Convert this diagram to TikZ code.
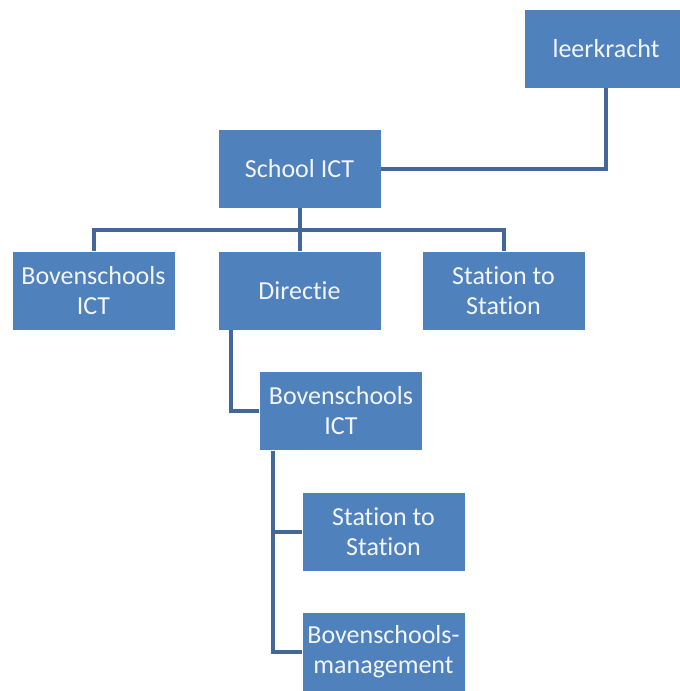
\documentclass[tikz,border=0pt]{standalone}
\usepackage{fontspec}
\setmainfont{Carlito}[Ligatures=NoCommon]
\usepackage{tikz}

\definecolor{boxblue}{HTML}{4F81BD}
\definecolor{linkblue}{HTML}{44679A}
\definecolor{textwhite}{HTML}{F2F6FB}

\begin{document}
\begin{tikzpicture}[x=1pt,y=-1pt,
  orgbox/.style={fill=boxblue,draw=white,line width=0.6pt,minimum width=163pt,minimum height=79pt,
    inner sep=0pt,align=center,text=textwhite,font=\fontsize{26}{30}\selectfont},
  link/.style={draw=linkblue,line width=4pt}]
\useasboundingbox (0,0) rectangle (680,691);
\clip (0,0) rectangle (680,691);
% top row
\node[orgbox] (leerkracht) at (606,48.5) {leerkracht};
\node[orgbox] (school) at (299.5,168.5) {School ICT};
% second row
\node[orgbox] (bovict) at (93.5,290.5) {Bovenschools\\ICT};
\node[orgbox] (directie) at (299.5,290.5) {Directie};
\node[orgbox] (station) at (503.5,290.5) {Station to\\Station};
% lower branch
\node[orgbox] (bovict2) at (341,411) {Bovenschools\\ICT};
\node[orgbox] (station2) at (383.5,532) {Station to\\Station};
\node[orgbox] (management) at (383.5,652) {Bovenschools-\\management};
% connectors
\coordinate (bar) at (299.5,230);
\draw[link] (leerkracht.south) |- (school.east);
\draw[link] (school.south) -- (bar);
\draw[link] (bar) -| (bovict.north);
\draw[link] (bar) -- (directie.north);
\draw[link] (bar) -| (station.north);
\draw[link] (directie.south -| 231,0) |- (bovict2.west);
\draw[link] (bovict2.south -| 273,0) |- (station2.west);
\draw[link] (bovict2.south -| 273,0) |- (management.west);
\end{tikzpicture}
\end{document}
